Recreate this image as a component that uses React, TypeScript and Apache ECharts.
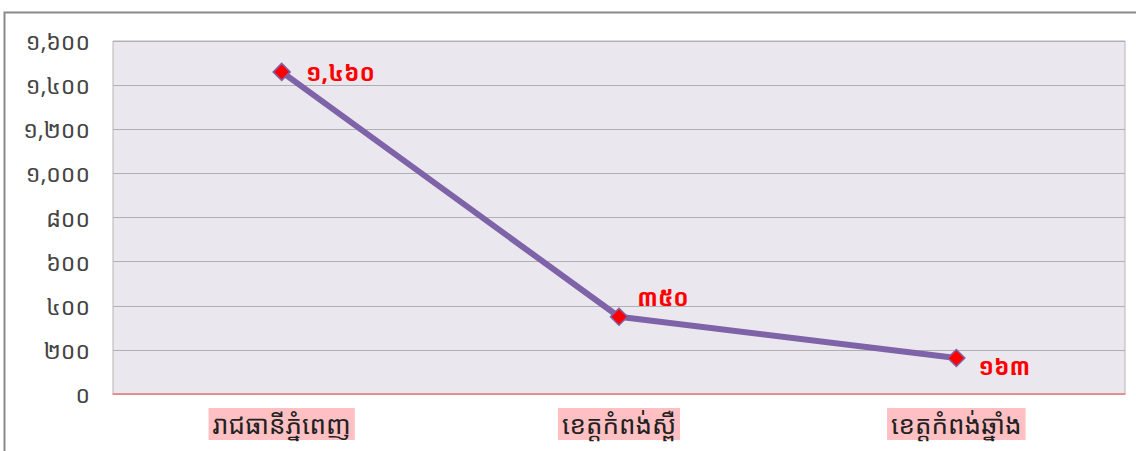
import React, { useEffect, useRef } from "react";
import * as echarts from "echarts";

const categories = ["រាជធានីភ្នំពេញ", "ខេត្តកំពង់ស្ពឺ", "ខេត្តកំពង់ឆ្នាំង"];
const values = [1460, 350, 163];
const valueLabels = ["១,៤៦០", "៣៥០", "១៦៣"];
const yTickValues = [0, 200, 400, 600, 800, 1000, 1200, 1400, 1600];
const yTickLabels = ["០", "២០០", "៤០០", "៦០០", "៨០០", "១,០០០", "១,២០០", "១,៤០០", "១,៦០០"];

const khmerFont = "'Khmer OS', 'Noto Sans Khmer', 'Khmer OS System', 'DejaVu Sans', sans-serif";

export default function App() {
  const ref = useRef<HTMLDivElement>(null);
  useEffect(() => {
    if (!ref.current) return;
    const chart = echarts.init(ref.current, null, { renderer: "svg" });
    const labelPos: any[] = [
      { position: "right", offset: [10, 0] },
      { position: "right", offset: [4, -20] },
      { position: "right", offset: [8, 8] },
    ];
    chart.setOption({
      animation: false,
      graphic: [
        {
          type: "rect",
          shape: { x: 4.5, y: 12.5, width: 1200, height: 500 },
          style: { fill: "none", stroke: "#8a8a8a", lineWidth: 2 },
          silent: true,
        },
      ],
      grid: {
        left: 113,
        right: 11,
        top: 41,
        bottom: 57,
        show: true,
        backgroundColor: "#EAE8EE",
        borderColor: "#B5B5B5",
        borderWidth: 1,
      },
      xAxis: {
        type: "category",
        data: categories,
        boundaryGap: true,
        axisLine: { show: true, lineStyle: { color: "#F08080", width: 1.5 } },
        axisTick: { show: false },
        axisLabel: {
          margin: 14,
          fontSize: 26,
          color: "#222",
          fontFamily: khmerFont,
          backgroundColor: "#FFC0C3",
          padding: [3, 4, 3, 4],
        },
      },
      yAxis: {
        type: "value",
        min: 0,
        max: 1600,
        interval: 200,
        axisLine: { show: false },
        axisTick: { show: false },
        splitLine: { lineStyle: { color: "#B0B0B0", width: 1.2 } },
        axisLabel: {
          margin: 23,
          fontSize: 23,
          color: "#444",
          fontFamily: khmerFont,
          formatter: (v: number) => {
            const i = yTickValues.indexOf(v);
            return i >= 0 ? yTickLabels[i] : "";
          },
        },
      },
      series: [
        {
          type: "line",
          data: values.map((v, i) => ({
            value: v,
            label: { ...labelPos[i] },
          })),
          lineStyle: { color: "#7F63A8", width: 6 },
          symbol: "diamond",
          symbolSize: 17,
          itemStyle: { color: "#FF0000", borderColor: "#7F63A8", borderWidth: 1.5 },
          label: {
            show: true,
            color: "#FF0000",
            fontSize: 23,
            fontWeight: "bold",
            fontFamily: khmerFont,
            formatter: (p: any) => valueLabels[p.dataIndex],
          },
        },
      ],
    });
    return () => chart.dispose();
  }, []);
  return (
    <div
      ref={ref}
      style={{ position: "fixed", left: 0, top: 0, width: 1136, height: 451, background: "#fff" }}
    />
  );
}
